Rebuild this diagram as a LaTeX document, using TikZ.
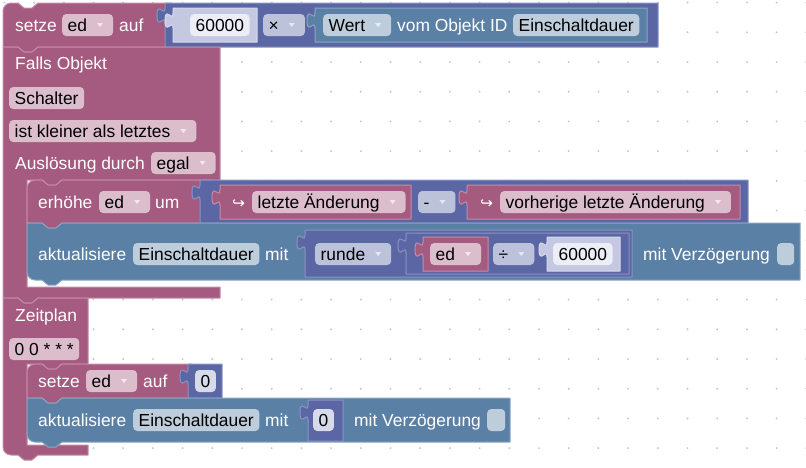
\documentclass[tikz,border=0pt]{standalone}
\usepackage{fontspec}
\setmainfont{Liberation Sans}
\newfontfamily\symfont{DejaVu Sans}

\definecolor{varcol}{RGB}{165,91,128}
\definecolor{varline}{RGB}{196,140,168}
\definecolor{mathcol}{RGB}{91,103,165}
\definecolor{mathline}{RGB}{138,147,194}
\definecolor{iobcol}{RGB}{91,128,165}
\definecolor{iobline}{RGB}{138,166,194}
\definecolor{varfield}{RGB}{219,189,204}
\definecolor{mathfield}{RGB}{189,194,219}
\definecolor{iobfield}{RGB}{189,205,219}
\definecolor{shadowcol}{RGB}{197,200,225}
\definecolor{numfield}{RGB}{236,237,246}
\definecolor{dotcol}{RGB}{200,200,200}

% puzzle tab on the left edge of a value block, and notches of statement blocks
\newcommand\tabup[2]{-- (#1,{#2+20}) .. controls (#1,{#2+10}) and ({#1-8},{#2+28}) .. ({#1-8},{#2+12.5}) .. controls ({#1-8},{#2-3}) and (#1,{#2+15}) .. (#1,{#2+5})}
\newcommand\notchr[2]{-- ({#1+15},#2) -- ({#1+21},{#2+5}) -- ({#1+29},{#2+5}) -- ({#1+35},#2)}
\newcommand\notchl[2]{-- ({#1+35},#2) -- ({#1+29},{#2+5}) -- ({#1+21},{#2+5}) -- ({#1+15},#2)}
\newcommand\valblk[5]{\draw[#1] (#2,#3) -- (#4,#3) -- (#4,#5) -- (#2,#5) \tabup{#2}{#3} -- cycle;}

\tikzset{
  varblk/.style={fill=varcol, draw=varline, line width=1pt},
  mathblk/.style={fill=mathcol, draw=mathline, line width=1pt},
  iobblk/.style={fill=iobcol, draw=iobline, line width=1pt},
  shadowblk/.style={fill=shadowcol, draw=shadowcol!70!white, line width=1pt},
  lbl/.style={inner sep=0pt, anchor=west, text=white, text height=14.5pt, text depth=2.1pt},
  fld/.style={inner xsep=5.5pt, inner ysep=0pt, anchor=west, minimum height=22pt,
    text height=14.5pt, text depth=2.1pt, rounded corners=4pt, text=black},
  dd/.style={fld, execute at end node={\hspace{20.5pt}},
    path picture={\fill[white, fill opacity=.65, sharp corners]
      ([xshift=-16pt, yshift=2pt]path picture bounding box.east) -- ++(6pt,0pt) -- ++(-3pt,-4pt) -- cycle;}},
  arr/.style={lbl, font=\symfont\fontsize{15.5}{18}\selectfont}
}

\begin{document}
\begin{tikzpicture}[x=1pt, y=-1pt, line cap=round, line join=round,
    every node/.style={font=\fontsize{17.4}{20}\selectfont}]
  \useasboundingbox (0,0) rectangle (806,467);
  \foreach \i in {0,...,27} \foreach \j in {0,...,15} \fill[dotcol] ({4.4+29.7*\i},{2.6+29.7*\j}) circle (1.1);

  % setze ed auf 60000 x Wert
  \draw[varblk] (3,47) -- (3,11) .. controls (3,6.6) and (6.6,3) .. (11,3) \notchr{3}{3} -- (172,3) -- (172,47) \notchl{3}{47} -- cycle;
  \node[lbl] (setze1) at (15,25) {setze};
  \node[dd, fill=varfield] (ed1) at (62,25) {ed};
  \node[lbl] (auf1) at (119,25) {auf};
  \valblk{mathblk}{165}{3}{658}{47}
  \valblk{shadowblk}{173}{8}{257}{42}
  \node[fld, fill=numfield] (num1) at (190,25) {60000};
  \node[dd, fill=mathfield] (mal) at (263,25) {×};
  \valblk{iobblk}{315}{8}{647}{42}
  \node[dd, fill=iobfield] (wert) at (323,25) {Wert};
  \node[lbl] (vom) at (397,25) {vom Objekt ID};
  \node[fld, fill=iobfield] (id1) at (513,25) {Einschaltdauer};

  % Falls Objekt
  \draw[varblk] (3,47) \notchr{3}{47} -- (220,47) -- (220,180) \notchl{27}{180} -- (27,180) -- (27,287) -- (220,287) -- (220,298) \notchl{3}{298} -- (3,298) -- cycle;
  \node[lbl] (falls) at (15,63) {Falls Objekt};
  \node[fld, fill=varfield] (schalter) at (9,98) {Schalter};
  \node[dd, fill=varfield] (vergl) at (9,131) {ist kleiner als letztes};
  \node[lbl] (ausl) at (15,163) {Auslösung durch};
  \node[dd, fill=varfield] (egal) at (151,163) {egal};

  % erhoehe ed um
  \draw[varblk] (27,223) -- (27,188) .. controls (27,183.6) and (30.6,180) .. (35,180) \notchr{27}{180} -- (212,180) -- (212,223) \notchl{27}{223} -- cycle;
  \node[lbl] (erh) at (38,202) {erhöhe};
  \node[dd, fill=varfield] (ed2) at (99,202) {ed};
  \node[lbl] (um) at (155,202) {um};
  \valblk{mathblk}{200}{180}{748}{223}
  \valblk{varblk}{220}{185}{411}{219}
  \node[arr] (pfeil1) at (232,202) {↪};
  \node[dd, fill=varfield] (letzte) at (252,202) {letzte Änderung};
  \node[dd, fill=mathfield] (minus) at (418,202) {-};
  \valblk{varblk}{467}{185}{740}{219}
  \node[arr] (pfeil2) at (480,202) {↪};
  \node[dd, fill=varfield] (vorh) at (500,202) {vorherige letzte Änderung};

  % aktualisiere mit runde
  \draw[iobblk] (27,223) \notchr{27}{223} -- (800,223) -- (800,280) \notchl{27}{280} -- (35,280) .. controls (30.6,280) and (27,276.4) .. (27,272) -- cycle;
  \node[lbl] (akt1) at (38,254) {aktualisiere};
  \node[fld, fill=iobfield] (id2) at (133,254) {Einschaltdauer};
  \node[lbl] (mit1) at (265,254) {mit};
  \valblk{mathblk}{305}{230}{632}{277}
  \node[dd, fill=mathfield] (runde) at (315,254) {runde};
  \valblk{mathblk}{406}{233}{629}{274}
  \valblk{varblk}{423}{237}{488}{271}
  \node[dd, fill=varfield] (ed3) at (430,254) {ed};
  \node[dd, fill=mathfield] (durch) at (493,254) {÷};
  \valblk{shadowblk}{547}{237}{620}{271}
  \node[fld, fill=numfield] (num2) at (553,254) {60000};
  \node[lbl] (verz1) at (643,254) {mit Verzögerung};
  \node[fld, fill=iobfield, minimum width=17pt] (cb1) at (777,254) {};

  % Zeitplan
  \draw[varblk] (3,298) \notchr{3}{298} -- (88,298) -- (88,364) \notchl{27}{364} -- (27,364) -- (27,445) -- (88,445) -- (88,455) \notchl{3}{455} -- (11,455) .. controls (6.6,455) and (3,451.4) .. (3,447) -- cycle;
  \node[lbl] (zeit) at (15,315) {Zeitplan};
  \node[fld, fill=varfield] (cron) at (9,349) {0 0 * * *};
  \draw[varblk] (27,398) -- (27,372) .. controls (27,367.6) and (30.6,364) .. (35,364) \notchr{27}{364} -- (192,364) -- (192,398) \notchl{27}{398} -- cycle;
  \node[lbl] (setze2) at (38,381) {setze};
  \node[dd, fill=varfield] (ed4) at (86,381) {ed};
  \node[lbl] (auf2) at (143,381) {auf};
  \valblk{mathblk}{188}{364}{222}{398}
  \node[fld, fill=mathfield!60!white] (null1) at (195,381) {0};
  \draw[iobblk] (27,398) \notchr{27}{398} -- (510,398) -- (510,442) \notchl{27}{442} -- (35,442) .. controls (30.6,442) and (27,438.4) .. (27,434) -- cycle;
  \node[lbl] (akt2) at (38,420) {aktualisiere};
  \node[fld, fill=iobfield] (id3) at (133,420) {Einschaltdauer};
  \node[lbl] (mit2) at (265,420) {mit};
  \valblk{mathblk}{308}{400}{343}{441}
  \node[fld, fill=mathfield!60!white] (null2) at (313,420) {0};
  \node[lbl] (verz2) at (354,420) {mit Verzögerung};
  \node[fld, fill=iobfield, minimum width=18pt] (cb2) at (487,420) {};
\end{tikzpicture}
\end{document}
